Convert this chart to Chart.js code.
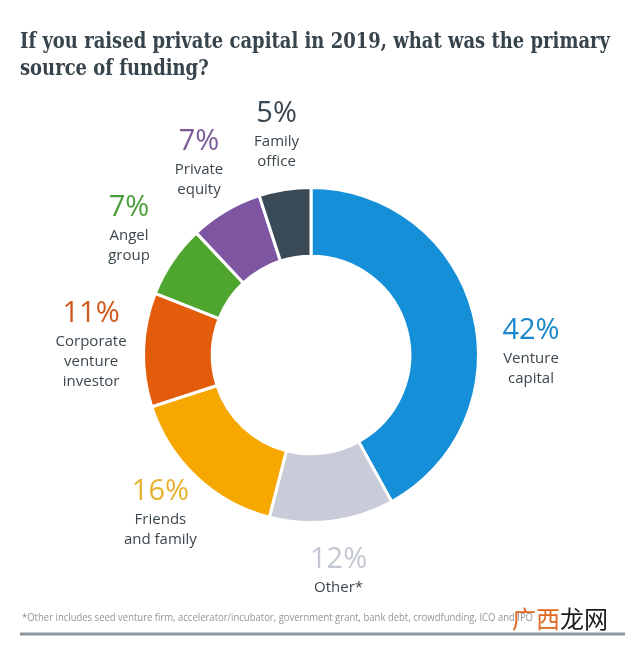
<!DOCTYPE html>
<html>
<head>
<meta charset="utf-8">
<script src="https://cdn.jsdelivr.net/npm/chart.js@4"></script>
<style>
  html, body { margin: 0; padding: 0; background: #fff; }
  canvas { display: block; }
</style>
</head>
<body>
<canvas id="chart" width="640" height="649"></canvas>
<script>
const categories = ['Venture capital', 'Other*', 'Friends and family', 'Corporate venture investor', 'Angel group', 'Private equity', 'Family office'];
const shares = [42, 12, 16, 11, 7, 7, 5];
const labelLines = [
  ['Venture', 'capital'],
  ['Other*'],
  ['Friends', 'and family'],
  ['Corporate', 'venture', 'investor'],
  ['Angel', 'group'],
  ['Private', 'equity'],
  ['Family', 'office']
];
const titleLines = ['If you raised private capital in 2019, what was the primary', 'source of funding?'];
const footnote = '*Other includes seed venture firm, accelerator/incubator, government grant, bank debt, crowdfunding, ICO and IPO';

const sliceColors = ['#1590d8', '#c9ccd8', '#f6a800', '#e35c0c', '#4ea62f', '#7d55a0', '#3a4a56'];
const pctColors = ['#1a88cc', '#c3c7d1', '#e6b22e', '#d0581a', '#4a9e3a', '#7d5a9a', '#3a4650'];

// squeeze a line horizontally so it spans the given width
function fitText(ctx, text, x, y, width) {
  const w = ctx.measureText(text).width;
  const k = Math.min(width / w, 1.15);
  ctx.save();
  ctx.translate(x, y);
  ctx.scale(k, 1);
  ctx.fillText(text, 0, 0);
  ctx.restore();
  return k;
}

const frame = {
  id: 'frame',
  afterDraw(chart) {
    const ctx = chart.ctx;
    ctx.save();
    ctx.textAlign = 'left';
    ctx.textBaseline = 'alphabetic';

    // title, bold slab squeezed to the reference width
    ctx.fillStyle = '#37444c';
    ctx.font = 'bold 23px "DejaVu Serif", serif';
    const w = ctx.measureText(titleLines[0]).width;
    const k = 590 / w;
    titleLines.forEach((t, i) => {
      ctx.save();
      ctx.translate(20, 48 + i * 27);
      ctx.scale(k, 1);
      ctx.fillText(t, 0, 0);
      ctx.restore();
    });

    // footnote + rule
    ctx.fillStyle = '#8f969c';
    ctx.font = '11px "Open Sans", sans-serif';
    fitText(ctx, footnote, 22, 621, 511);
    ctx.strokeStyle = '#8c969e';
    ctx.lineWidth = 3;
    ctx.beginPath();
    ctx.moveTo(20, 634);
    ctx.lineTo(625, 634);
    ctx.stroke();

    // watermark
    ctx.font = '24px "Noto Sans CJK SC", sans-serif';
    ctx.fillStyle = '#e2661f';
    ctx.fillText('广西', 512, 628);
    const ww = ctx.measureText('广西').width;
    ctx.fillStyle = '#1a1a1a';
    ctx.fillText('龙网', 512 + ww, 628);
    ctx.restore();
  }
};

const outerLabels = {
  id: 'outerLabels',
  afterDraw(chart, args, opts) {
    const ctx = chart.ctx;
    const meta = chart.getDatasetMeta(0);
    meta.data.forEach((arc, i) => {
      const p = arc.getProps(['x', 'y', 'startAngle', 'endAngle'], true);
      let a = (p.startAngle + p.endAngle) / 2;
      // the big slice crossing 3 o'clock gets its label level with the centre
      if (p.startAngle < 0 && p.endAngle > 0) a = 0;
      const cx = p.x + Math.cos(a) * opts.radius;
      const cy = p.y + Math.sin(a) * opts.radius;
      const lines = labelLines[i];
      const top = cy - (opts.pctGap + opts.lineGap * (lines.length - 1)) / 2;
      ctx.save();
      ctx.textAlign = 'center';
      ctx.textBaseline = 'middle';
      ctx.font = opts.pctFont;
      ctx.fillStyle = pctColors[i];
      ctx.fillText(shares[i] + '%', cx, top);
      ctx.font = opts.lineFont;
      ctx.fillStyle = opts.lineColor;
      lines.forEach((t, j) => ctx.fillText(t, cx, top + opts.pctGap + j * opts.lineGap));
      ctx.restore();
    });
  }
};

new Chart(document.getElementById('chart'), {
  type: 'doughnut',
  data: {
    labels: categories,
    datasets: [{
      data: shares,
      backgroundColor: sliceColors,
      borderColor: '#ffffff',
      borderWidth: 3
    }]
  },
  options: {
    responsive: false,
    animation: false,
    events: [],
    cutout: '59%',
    layout: { padding: { left: 142, right: 160, top: 186, bottom: 125 } },
    plugins: {
      legend: { display: false },
      tooltip: { enabled: false },
      outerLabels: {
        radius: 220,
        pctGap: 28,
        lineGap: 20,
        pctFont: '29px "Open Sans", sans-serif',
        lineFont: '15px "Open Sans", sans-serif',
        lineColor: '#3c474e'
      }
    }
  },
  plugins: [outerLabels, frame]
});
</script>
</body>
</html>
